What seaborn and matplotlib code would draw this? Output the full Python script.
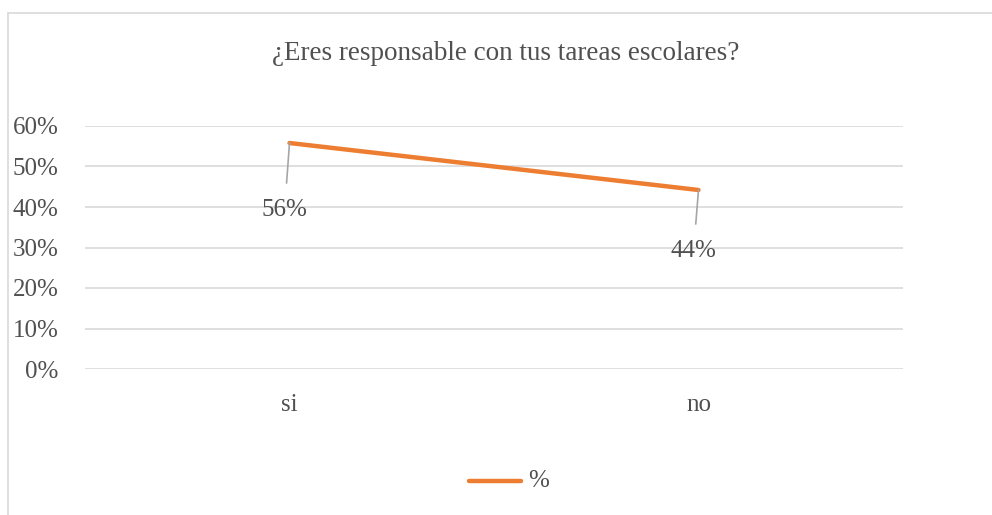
import matplotlib
matplotlib.use('Agg')
import matplotlib.pyplot as plt
from matplotlib.lines import Line2D
import pandas as pd
import seaborn as sns

# Chart data
categories = ['si', 'no']
values = [0.558, 0.442]
value_labels = ['56%', '44%']
y_ticks = [0, 0.1, 0.2, 0.3, 0.4, 0.5, 0.6]
y_tick_labels = ['0%', '10%', '20%', '30%', '40%', '50%', '60%']

df = pd.DataFrame({'cat': categories, 'val': values})

sns.set_style('white')
plt.rcParams['font.family'] = ['Liberation Serif', 'DejaVu Serif']

text_color = '#505050'
grid_color = '#d9d9d9'
orange = '#ED7D31'

fig = plt.figure(figsize=(9.92, 5.15), dpi=100)
W, H = 992, 515
ax = fig.add_axes([85 / W, 1 - 369 / H, (903 - 85) / W, (369 - 126) / H])

x = list(range(len(categories)))
sns.lineplot(x=x, y=df['val'], ax=ax, color=orange, linewidth=3.2,
             solid_capstyle='round', label='%', legend=False)

ax.set_xlim(-0.5, len(categories) - 0.5)
ax.set_ylim(0, 0.6)
ax.set_xticks(x)
ax.set_xticklabels(categories)
ax.set_yticks(y_ticks)
ax.set_yticklabels(y_tick_labels)
ax.tick_params(axis='both', length=0, labelsize=18, colors=text_color)
ax.tick_params(axis='x', pad=18)
ax.tick_params(axis='y', pad=19)
ax.grid(axis='y', color=grid_color, linewidth=1.2)
ax.set_axisbelow(True)
for s in ax.spines.values():
    s.set_visible(False)
ax.set_xlabel('')
ax.set_ylabel('')

# Data labels with leader lines
offsets = [-0.165, -0.15]
for i, (v, lab) in enumerate(zip(values, value_labels)):
    ax.annotate(lab, xy=(i, v), xytext=(i - 0.012, v + offsets[i]),
                ha='center', va='center', fontsize=18, color=text_color,
                arrowprops=dict(arrowstyle='-', color='#a6a6a6', lw=1.2,
                                shrinkA=9, shrinkB=0))

fig.text(506 / W, 1 - 53 / H, '¿Eres responsable con tus tareas escolares?',
         ha='center', va='center', fontsize=19.5, color=text_color)

# Legend
leg_line = Line2D([469 / W, 521 / W], [1 - 481 / H, 1 - 481 / H], transform=fig.transFigure,
                  color=orange, linewidth=3.2, solid_capstyle='round')
fig.add_artist(leg_line)
fig.text(528 / W, 1 - 481 / H, '%', ha='left', va='center', fontsize=18, color=text_color)

# Chart border
fig.add_artist(Line2D([8 / W, 8 / W], [0, 1 - 13 / H], transform=fig.transFigure,
                      color=grid_color, linewidth=1.2))
fig.add_artist(Line2D([8 / W, 1], [1 - 13 / H, 1 - 13 / H], transform=fig.transFigure,
                      color=grid_color, linewidth=1.2))

fig.savefig('out.png', dpi=100)
